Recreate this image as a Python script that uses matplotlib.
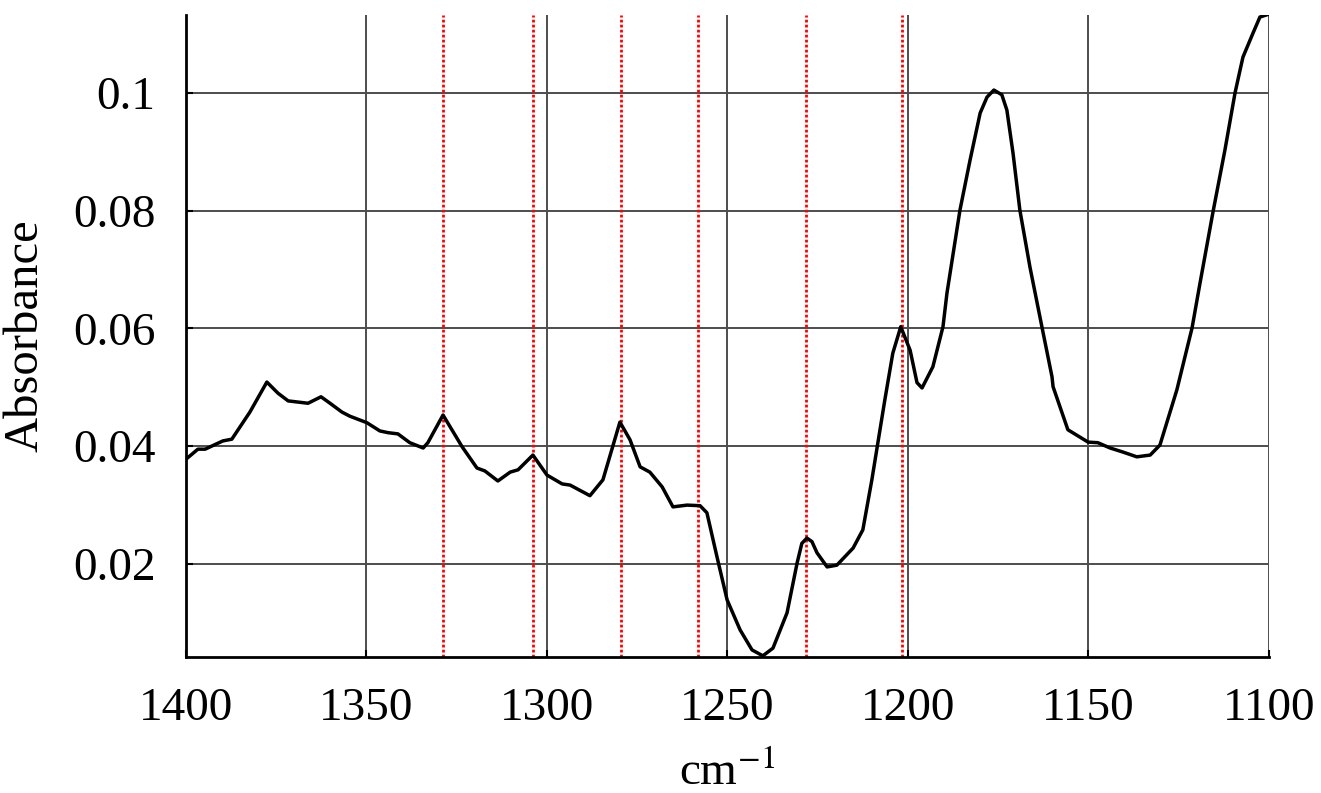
import matplotlib
matplotlib.use("Agg")
import matplotlib.pyplot as plt
from matplotlib.ticker import FuncFormatter

plt.rcParams['font.family'] = ['Liberation Serif', 'DejaVu Serif']
plt.rcParams['mathtext.fontset'] = 'stix'

# spectrum (wavenumber, absorbance)
wavenumber = [1400.0, 1396.7, 1394.7, 1389.8, 1387.3, 1382.3, 1377.6, 1374.5, 1371.7, 1366.2,
              1362.6, 1360.1, 1356.8, 1354.6, 1349.9, 1346.3, 1344.0, 1341.3, 1338.0, 1334.3,
              1333.0, 1328.8, 1323.5, 1319.4, 1317.2, 1313.6, 1310.2, 1308.0, 1303.9, 1300.0,
              1295.8, 1293.6, 1288.1, 1284.5, 1279.8, 1277.0, 1274.2, 1271.5, 1268.1, 1265.1,
              1261.2, 1257.6, 1255.7, 1252.9, 1250.1, 1246.5, 1243.2, 1240.2, 1237.4, 1233.5,
              1230.7, 1229.4, 1228.0, 1226.6, 1225.2, 1222.4, 1219.7, 1215.2, 1212.5, 1210.0,
              1206.4, 1204.2, 1202.0, 1199.4, 1197.5, 1196.1, 1193.1, 1190.3, 1189.2, 1185.6,
              1182.8, 1180.0, 1178.1, 1176.2, 1174.0, 1172.6, 1170.9, 1169.0, 1166.2, 1162.9,
              1160.1, 1159.8, 1155.7, 1150.1, 1147.4, 1144.0, 1140.4, 1136.6, 1132.9, 1130.2,
              1125.5, 1121.3, 1119.1, 1115.5, 1112.2, 1109.4, 1108.0, 1107.2, 1104.4,
              1102.5, 1100.0]
absorbance = [0.0378, 0.0395, 0.0395, 0.0409, 0.0412, 0.0458, 0.0509, 0.0490, 0.0477, 0.0473,
              0.0484, 0.0473, 0.0458, 0.0451, 0.0440, 0.0426, 0.0423, 0.0421, 0.0406, 0.0397,
              0.0406, 0.0453, 0.0399, 0.0363, 0.0358, 0.0341, 0.0356, 0.0360, 0.0385, 0.0351,
              0.0336, 0.0334, 0.0316, 0.0343, 0.0441, 0.0411, 0.0365, 0.0356, 0.0331, 0.0297,
              0.0300, 0.0299, 0.0287, 0.0212, 0.0139, 0.0088, 0.0054, 0.0044, 0.0057, 0.0117,
              0.0202, 0.0235, 0.0244, 0.0238, 0.0219, 0.0195, 0.0198, 0.0227, 0.0258, 0.0343,
              0.0479, 0.0558, 0.0603, 0.0563, 0.0508, 0.0499, 0.0535, 0.0603, 0.0660, 0.0801,
              0.0886, 0.0966, 0.0993, 0.1005, 0.0997, 0.0971, 0.0898, 0.0801, 0.0704, 0.0603,
              0.0518, 0.0501, 0.0428, 0.0407, 0.0406, 0.0397, 0.0390, 0.0382, 0.0385, 0.0402,
              0.0496, 0.0601, 0.0677, 0.0798, 0.0903, 0.1000, 0.1039, 0.1061, 0.1102,
              0.1129, 0.1134]

# marked band positions (red lines)
bands = [1328.8, 1303.9, 1279.5, 1258.2, 1228.3, 1201.7]

x_ticks = [1400, 1350, 1300, 1250, 1200, 1150, 1100]
y_ticks = [0.02, 0.04, 0.06, 0.08, 0.1]

fig = plt.figure(figsize=(13.21, 7.93), dpi=100)
ax = fig.add_axes([0.1408, 0.1715, 0.8198, 0.8096])

for xt in x_ticks[1:]:
    ax.axvline(xt, color='0.3', lw=1.4, zorder=1)
for yt in y_ticks:
    ax.axhline(yt, color='0.3', lw=1.4, zorder=1)

for b in bands:
    ax.axvline(b, color='red', lw=2, linestyle=(0, (1, 0.8)), zorder=2)

ax.plot(wavenumber, absorbance, color='black', lw=2.5, zorder=3, solid_joinstyle='round')

ax.set_xlim(1400, 1100)
ax.set_ylim(0.0042, 0.11325)
ax.set_xticks(x_ticks)
ax.set_yticks(y_ticks)
ax.yaxis.set_major_formatter(FuncFormatter(lambda v, p: ('%.2f' % v).rstrip('0')))

ax.spines['top'].set_visible(False)
ax.spines['right'].set_visible(False)
ax.spines['left'].set_linewidth(2)
ax.spines['bottom'].set_linewidth(2)
ax.tick_params(direction='in', length=5, width=1.5, labelsize=34, pad=22)

ax.set_xlabel('cm$^{-1}$', fontsize=34, labelpad=15)
ax.set_ylabel('Absorbance', fontsize=35, labelpad=18)

fig.savefig('out.png', dpi=100)
